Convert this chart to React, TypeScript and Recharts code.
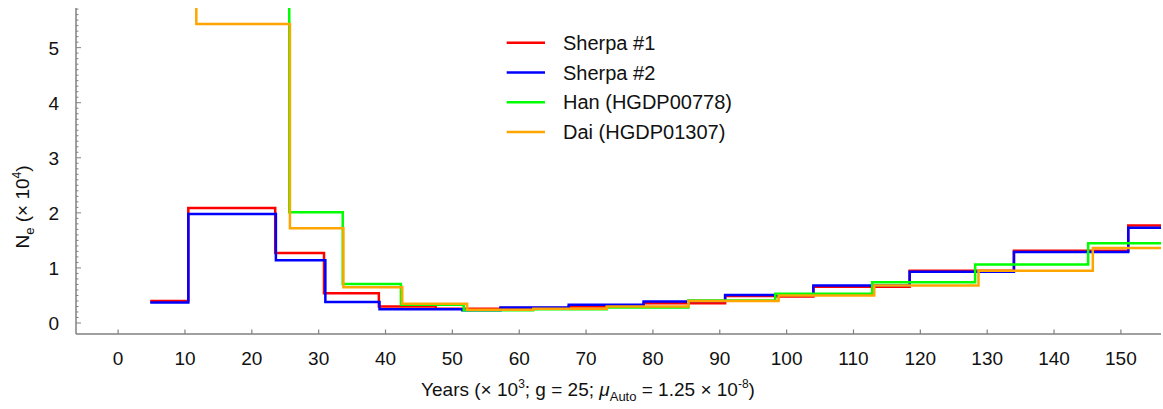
import React from 'react';
import { LineChart, Line, XAxis, YAxis, Legend } from 'recharts';

// ---- data (years ×10^3 where each step starts, Ne ×10^4) ----
const sherpa1Starts = [4.8, 10.5, 23.5, 30.8, 39.0, 47.5, 57.2, 67.4, 78.6, 90.8, 98.3, 104.0, 118.4, 134.0, 151.1];
const sherpa1Values = [0.40, 2.09, 1.27, 0.54, 0.30, 0.26, 0.27, 0.30, 0.36, 0.49, 0.48, 0.66, 0.95, 1.31, 1.77];

const sherpa2Starts = [4.8, 10.5, 23.6, 31.0, 39.1, 51.5, 57.2, 67.4, 78.6, 85.3, 90.8, 104.0, 118.4, 134.0, 151.1];
const sherpa2Values = [0.37, 1.98, 1.14, 0.38, 0.25, 0.23, 0.28, 0.33, 0.39, 0.40, 0.51, 0.68, 0.93, 1.29, 1.73];

const hanStarts = [11.7, 25.6, 33.6, 42.3, 51.7, 62.1, 73.1, 85.3, 98.3, 112.8, 128.2, 145.1];
const hanValues = [7.0, 2.01, 0.71, 0.33, 0.23, 0.25, 0.28, 0.41, 0.53, 0.74, 1.06, 1.45];

const daiStarts = [5.0, 11.7, 25.7, 33.7, 42.5, 52.2, 62.1, 73.1, 85.3, 98.8, 113.1, 128.7, 145.8];
const daiValues = [7.0, 5.43, 1.72, 0.65, 0.35, 0.24, 0.26, 0.30, 0.40, 0.50, 0.68, 0.95, 1.36];

const endYear = 158;

const xTicks = [0, 10, 20, 30, 40, 50, 60, 70, 80, 90, 100, 110, 120, 130, 140, 150];
const yMajorTicks = [0, 1, 2, 3, 4, 5];
const yMinorStep = 0.1;

const seriesNames = ['Sherpa #1', 'Sherpa #2', 'Han (HGDP00778)', 'Dai (HGDP01307)'];
const seriesColors = ['#ff0000', '#0000ff', '#00ff00', '#ffa500'];

const xDomain: [number, number] = [-6.3, 156];
const yDomain: [number, number] = [-0.2, 5.72];

// ---- helpers ----
function buildSteps(starts: number[], values: number[]) {
  const pts = starts.map((s, i) => ({ x: s, y: values[i] }));
  pts.push({ x: endYear, y: values[values.length - 1] });
  return pts;
}

const seriesData = [
  buildSteps(sherpa1Starts, sherpa1Values),
  buildSteps(sherpa2Starts, sherpa2Values),
  buildSteps(hanStarts, hanValues),
  buildSteps(daiStarts, daiValues),
];

const yTicksAll: number[] = [];
for (let i = 0; i <= Math.round(5.7 / yMinorStep); i++) {
  yTicksAll.push(Math.round(i * yMinorStep * 10) / 10);
}

const FONT = '"Liberation Sans", Arial, Helvetica, sans-serif';
const AXIS = '#808080';
const TEXT = '#111';

const YTick = (props: any) => {
  const { x, y, payload } = props;
  const v = payload.value as number;
  const major = yMajorTicks.some((m) => Math.abs(m - v) < 1e-6);
  return (
    <g>
      <line x1={x} x2={x + (major ? 5 : 2.5)} y1={y} y2={y} stroke={AXIS} strokeWidth={1} />
      {major && (
        <text x={x - 17} y={y + 7} textAnchor="end" fontSize={19} fontFamily={FONT} fill={TEXT}>
          {Math.round(v)}
        </text>
      )}
    </g>
  );
};

const XTick = (props: any) => {
  const { x, y, payload } = props;
  return (
    <g>
      <line x1={x} x2={x} y1={y} y2={y - 4.5} stroke={AXIS} strokeWidth={1.2} />
      <text x={x} y={y + 31} textAnchor="middle" fontSize={19} fontFamily={FONT} fill={TEXT}>
        {payload.value}
      </text>
    </g>
  );
};

const XTitle = () => (
  <text x={588} y={396} textAnchor="middle" fontSize={19} fontFamily={FONT} fill={TEXT}>
    <tspan>Years (× 10</tspan>
    <tspan fontSize={12} dy={-8}>3</tspan>
    <tspan dy={8}>; g = 25; </tspan>
    <tspan fontStyle="italic">μ</tspan>
    <tspan fontSize={13} dy={5}>Auto</tspan>
    <tspan dy={-5}> = 1.25 × 10</tspan>
    <tspan fontSize={12} dy={-8}>-8</tspan>
    <tspan dy={8}>)</tspan>
  </text>
);

const YTitle = () => (
  <text
    x={29}
    y={207}
    transform="rotate(-90, 29, 207)"
    textAnchor="middle"
    fontSize={19}
    fontFamily={FONT}
    fill={TEXT}
  >
    <tspan>N</tspan>
    <tspan fontSize={13} dy={5}>e</tspan>
    <tspan dy={-5}> (× 10</tspan>
    <tspan fontSize={12} dy={-8}>4</tspan>
    <tspan dy={8}>)</tspan>
  </text>
);

const LegendBox = () => (
  <svg width={260} height={125} style={{ display: 'block', overflow: 'visible' }}>
    {seriesNames.map((name, i) => {
      const cy = 14.7 + i * 29.8;
      return (
        <g key={name}>
          <line x1={6.7} x2={45} y1={cy} y2={cy} stroke={seriesColors[i]} strokeWidth={2.5} />
          <text x={63} y={cy + 7} fontSize={20} fontFamily={FONT} fill={TEXT}>
            {name}
          </text>
        </g>
      );
    })}
  </svg>
);

export default function App() {
  return (
    <div style={{ position: 'absolute', left: 0, top: 0, width: 1163, height: 409, background: '#fff' }}>
      <LineChart width={1163} height={409} margin={{ top: 8, right: 2, left: 0, bottom: 0 }}>
        <XAxis
          xAxisId={0}
          type="number"
          dataKey="x"
          domain={xDomain}
          allowDataOverflow
          ticks={xTicks}
          interval={0}
          height={75}
          tickSize={0}
          tickMargin={0}
          tickLine={false}
          tick={<XTick />}
          axisLine={{ stroke: AXIS, strokeWidth: 1.5 }}
          label={<XTitle />}
        />
        <XAxis
          xAxisId="top"
          orientation="top"
          type="number"
          domain={xDomain}
          allowDataOverflow
          height={0}
          tick={false}
          tickLine={false}
          axisLine={{ stroke: AXIS, strokeWidth: 1.5 }}
        />
        <YAxis
          yAxisId={0}
          type="number"
          domain={yDomain}
          allowDataOverflow
          ticks={yTicksAll}
          interval={0}
          width={76}
          tickSize={0}
          tickMargin={0}
          tickLine={false}
          tick={<YTick />}
          axisLine={{ stroke: AXIS, strokeWidth: 1.5 }}
          label={<YTitle />}
        />
        <YAxis
          yAxisId="right"
          orientation="right"
          type="number"
          domain={yDomain}
          allowDataOverflow
          width={0}
          tick={false}
          tickLine={false}
          axisLine={{ stroke: AXIS, strokeWidth: 1.5 }}
        />
        <Legend
          layout="horizontal"
          verticalAlign="middle"
          align="center"
          wrapperStyle={{ left: 500, top: 28, width: 260, height: 125 }}
          content={() => <LegendBox />}
        />
        {seriesData.map((d, i) => (
          <Line
            key={seriesNames[i]}
            xAxisId={0}
            yAxisId={0}
            data={d}
            dataKey="y"
            name={seriesNames[i]}
            type="stepAfter"
            stroke={seriesColors[i]}
            strokeWidth={2.5}
            dot={false}
            activeDot={false}
            isAnimationActive={false}
          />
        ))}
      </LineChart>
    </div>
  );
}
